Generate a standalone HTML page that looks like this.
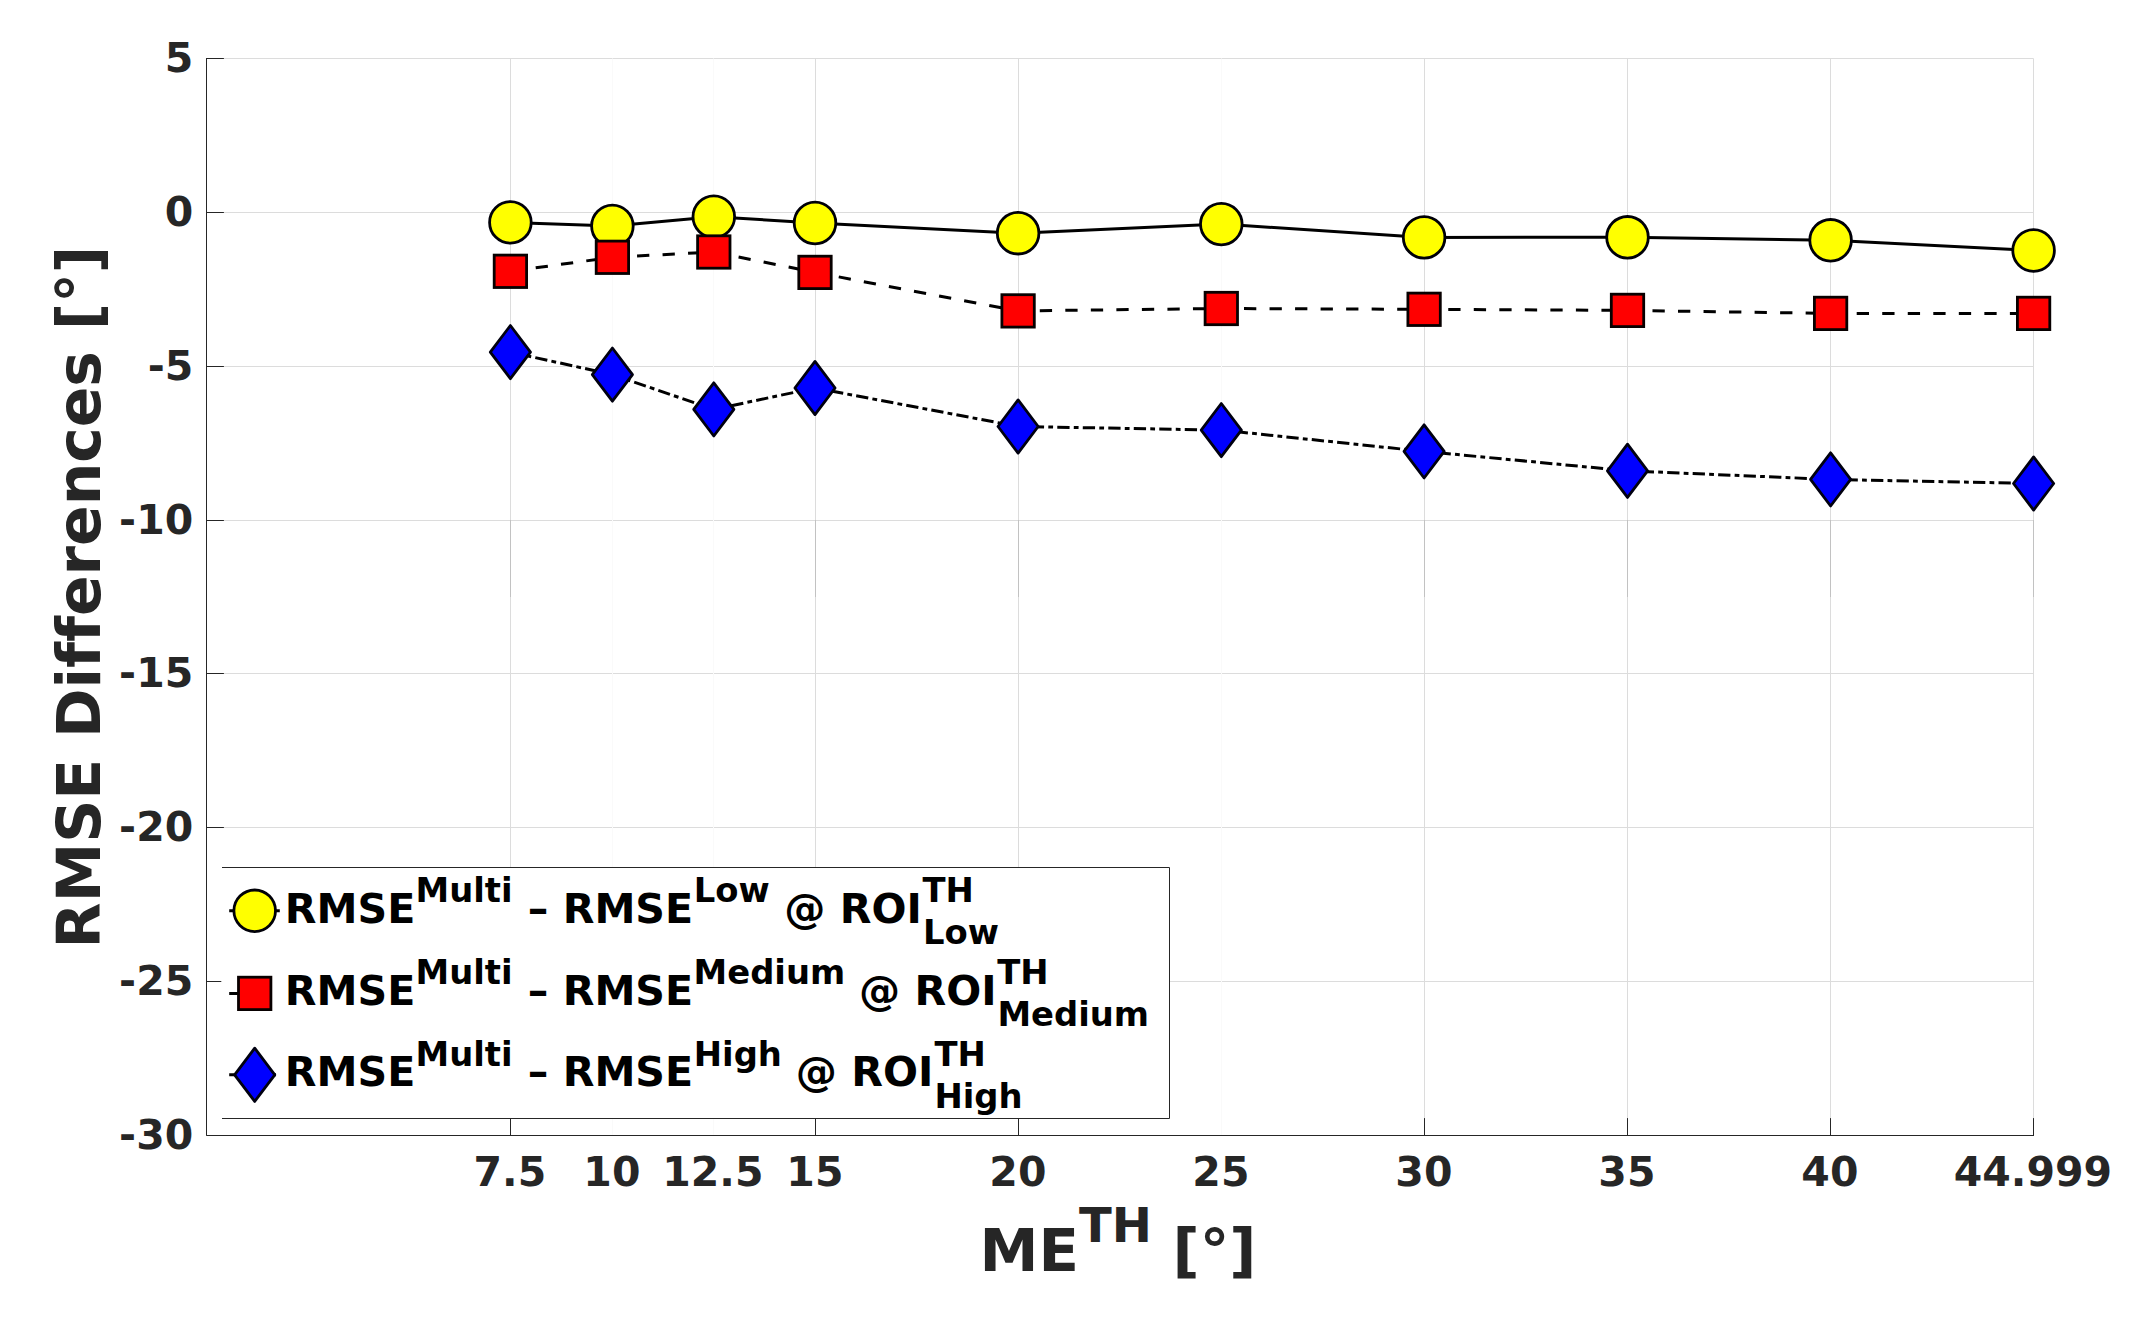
<!DOCTYPE html>
<html lang="en"><head><meta charset="utf-8"><title>RMSE Differences</title>
<style>html,body{margin:0;padding:0;background:#fff;}svg{display:block;}text{font-family:"DejaVu Sans", "Liberation Sans", sans-serif;font-weight:bold;font-variant-ligatures:none;}</style>
</head><body>
<svg width="2152" height="1318" viewBox="0 0 2152 1318">
<rect width="2152" height="1318" fill="#fff"/>
<g stroke="#dcdcdc" stroke-width="1" fill="none">
<line x1="206.5" y1="58.5" x2="2033.5" y2="58.5"/>
<line x1="206.5" y1="212.5" x2="2033.5" y2="212.5"/>
<line x1="206.5" y1="366.5" x2="2033.5" y2="366.5"/>
<line x1="206.5" y1="520.5" x2="2033.5" y2="520.5"/>
<line x1="206.5" y1="673.5" x2="2033.5" y2="673.5"/>
<line x1="206.5" y1="827.5" x2="2033.5" y2="827.5"/>
<line x1="206.5" y1="981.5" x2="2033.5" y2="981.5"/>
<line x1="510.5" y1="58.5" x2="510.5" y2="1135.5"/>
<line x1="815.5" y1="58.5" x2="815.5" y2="1135.5"/>
<line x1="1018.5" y1="58.5" x2="1018.5" y2="1135.5"/>
<line x1="1424.5" y1="58.5" x2="1424.5" y2="1135.5"/>
<line x1="1627.5" y1="58.5" x2="1627.5" y2="1135.5"/>
<line x1="1830.5" y1="58.5" x2="1830.5" y2="1135.5"/>
<line x1="2033.5" y1="58.5" x2="2033.5" y2="1135.5"/>
</g>
<g stroke="#fafafa" stroke-width="1" fill="none">
<line x1="612.5" y1="58.5" x2="612.5" y2="1135.5"/>
<line x1="713.5" y1="58.5" x2="713.5" y2="1135.5"/>
<line x1="1221.5" y1="58.5" x2="1221.5" y2="1135.5"/>
</g>
<g stroke="#c2c2c2" stroke-width="1" fill="none">
<line x1="510.5" y1="520" x2="510.5" y2="597"/>
<line x1="815.5" y1="520" x2="815.5" y2="597"/>
<line x1="1018.5" y1="520" x2="1018.5" y2="597"/>
<line x1="1424.5" y1="520" x2="1424.5" y2="597"/>
<line x1="1627.5" y1="520" x2="1627.5" y2="597"/>
<line x1="1830.5" y1="520" x2="1830.5" y2="597"/>
<line x1="2033.5" y1="520" x2="2033.5" y2="597"/>
</g>
<g stroke="#262626" stroke-width="1" fill="none">
<path d="M206.5 58.0 V1135.5 H2034.0"/>
<line x1="206.5" y1="58.5" x2="223.9" y2="58.5"/>
<line x1="206.5" y1="212.5" x2="223.9" y2="212.5"/>
<line x1="206.5" y1="366.5" x2="223.9" y2="366.5"/>
<line x1="206.5" y1="520.5" x2="223.9" y2="520.5"/>
<line x1="206.5" y1="673.5" x2="223.9" y2="673.5"/>
<line x1="206.5" y1="827.5" x2="223.9" y2="827.5"/>
<line x1="206.5" y1="981.5" x2="223.9" y2="981.5"/>
<line x1="206.5" y1="1135.5" x2="223.9" y2="1135.5"/>
<line x1="510.5" y1="1135.5" x2="510.5" y2="1118.1"/>
<line x1="815.5" y1="1135.5" x2="815.5" y2="1118.1"/>
<line x1="1018.5" y1="1135.5" x2="1018.5" y2="1118.1"/>
<line x1="1424.5" y1="1135.5" x2="1424.5" y2="1118.1"/>
<line x1="1627.5" y1="1135.5" x2="1627.5" y2="1118.1"/>
<line x1="1830.5" y1="1135.5" x2="1830.5" y2="1118.1"/>
<line x1="2033.5" y1="1135.5" x2="2033.5" y2="1118.1"/>
</g>
<g fill="#262626" font-size="41">
<text x="193.2" y="72.3" text-anchor="end">5</text>
<text x="193.2" y="226.3" text-anchor="end">0</text>
<text x="193.2" y="380.3" text-anchor="end">-5</text>
<text x="193.2" y="534.3" text-anchor="end">-10</text>
<text x="193.2" y="687.3" text-anchor="end">-15</text>
<text x="193.2" y="841.3" text-anchor="end">-20</text>
<text x="193.2" y="995.3" text-anchor="end">-25</text>
<text x="193.2" y="1149.3" text-anchor="end">-30</text>
<text x="509.9" y="1185.8" text-anchor="middle">7.5</text>
<text x="611.9" y="1185.8" text-anchor="middle">10</text>
<text x="712.9" y="1185.8" text-anchor="middle">12.5</text>
<text x="814.9" y="1185.8" text-anchor="middle">15</text>
<text x="1017.9" y="1185.8" text-anchor="middle">20</text>
<text x="1220.9" y="1185.8" text-anchor="middle">25</text>
<text x="1423.9" y="1185.8" text-anchor="middle">30</text>
<text x="1626.9" y="1185.8" text-anchor="middle">35</text>
<text x="1829.9" y="1185.8" text-anchor="middle">40</text>
<text x="2032.9" y="1185.8" text-anchor="middle">44.999</text>
</g>
<g fill="#262626">
<text x="979.5" y="1271" font-size="59.3">ME<tspan font-size="48" dy="-29.3">TH</tspan><tspan dy="29.3"> [°]</tspan></text>
<text transform="translate(100.1 948.4) rotate(-90)" font-size="59.8">RMSE Differences [°]</text>
</g>
<polyline points="510.4,222.4 612.4,225.9 713.8,216.7 815.0,223.0 1018.1,233.2 1221.3,224.1 1424.1,237.4 1627.5,237.3 1830.6,240.3 2033.6,250.5" fill="none" stroke="#000" stroke-width="3.0"/>
<circle cx="510.4" cy="222.4" r="20.8" fill="#ffff00" stroke="#000008" stroke-width="2.8"/>
<circle cx="612.4" cy="225.9" r="20.8" fill="#ffff00" stroke="#000008" stroke-width="2.8"/>
<circle cx="713.8" cy="216.7" r="20.8" fill="#ffff00" stroke="#000008" stroke-width="2.8"/>
<circle cx="815.0" cy="223.0" r="20.8" fill="#ffff00" stroke="#000008" stroke-width="2.8"/>
<circle cx="1018.1" cy="233.2" r="20.8" fill="#ffff00" stroke="#000008" stroke-width="2.8"/>
<circle cx="1221.3" cy="224.1" r="20.8" fill="#ffff00" stroke="#000008" stroke-width="2.8"/>
<circle cx="1424.1" cy="237.4" r="20.8" fill="#ffff00" stroke="#000008" stroke-width="2.8"/>
<circle cx="1627.5" cy="237.3" r="20.8" fill="#ffff00" stroke="#000008" stroke-width="2.8"/>
<circle cx="1830.6" cy="240.3" r="20.8" fill="#ffff00" stroke="#000008" stroke-width="2.8"/>
<circle cx="2033.6" cy="250.5" r="20.8" fill="#ffff00" stroke="#000008" stroke-width="2.8"/>
<polyline points="510.4,271.3 612.4,257.3 713.8,252.0 815.0,272.4 1018.1,310.9 1221.3,308.5 1424.1,309.3 1627.5,310.4 1830.6,313.4 2033.6,313.4" fill="none" stroke="#000" stroke-width="3.0" stroke-dasharray="12.3 13.23"/>
<rect x="494.2" y="255.1" width="32.4" height="32.4" fill="#ff0000" stroke="#080000" stroke-width="2.8"/>
<rect x="596.2" y="241.1" width="32.4" height="32.4" fill="#ff0000" stroke="#080000" stroke-width="2.8"/>
<rect x="697.6" y="235.8" width="32.4" height="32.4" fill="#ff0000" stroke="#080000" stroke-width="2.8"/>
<rect x="798.8" y="256.2" width="32.4" height="32.4" fill="#ff0000" stroke="#080000" stroke-width="2.8"/>
<rect x="1001.9" y="294.7" width="32.4" height="32.4" fill="#ff0000" stroke="#080000" stroke-width="2.8"/>
<rect x="1205.1" y="292.3" width="32.4" height="32.4" fill="#ff0000" stroke="#080000" stroke-width="2.8"/>
<rect x="1407.9" y="293.1" width="32.4" height="32.4" fill="#ff0000" stroke="#080000" stroke-width="2.8"/>
<rect x="1611.3" y="294.2" width="32.4" height="32.4" fill="#ff0000" stroke="#080000" stroke-width="2.8"/>
<rect x="1814.4" y="297.2" width="32.4" height="32.4" fill="#ff0000" stroke="#080000" stroke-width="2.8"/>
<rect x="2017.4" y="297.2" width="32.4" height="32.4" fill="#ff0000" stroke="#080000" stroke-width="2.8"/>
<polyline points="510.4,352.1 612.4,374.6 713.8,409.4 815.0,388.0 1018.1,426.5 1221.3,430.1 1424.1,451.4 1627.5,470.8 1830.6,479.4 2033.6,483.5" fill="none" stroke="#000" stroke-width="3.0" stroke-dasharray="12.3 4.2 4.8 4.2"/>
<path d="M510.4 325.5 L530.5 352.1 L510.4 378.7 L490.3 352.1 Z" fill="#0000ff" stroke="#000010" stroke-width="2.8" stroke-linejoin="round"/>
<path d="M612.4 348.0 L632.5 374.6 L612.4 401.2 L592.3 374.6 Z" fill="#0000ff" stroke="#000010" stroke-width="2.8" stroke-linejoin="round"/>
<path d="M713.8 382.8 L733.9 409.4 L713.8 436.0 L693.7 409.4 Z" fill="#0000ff" stroke="#000010" stroke-width="2.8" stroke-linejoin="round"/>
<path d="M815.0 361.4 L835.1 388.0 L815.0 414.6 L794.9 388.0 Z" fill="#0000ff" stroke="#000010" stroke-width="2.8" stroke-linejoin="round"/>
<path d="M1018.1 399.9 L1038.2 426.5 L1018.1 453.1 L998.0 426.5 Z" fill="#0000ff" stroke="#000010" stroke-width="2.8" stroke-linejoin="round"/>
<path d="M1221.3 403.5 L1241.4 430.1 L1221.3 456.7 L1201.2 430.1 Z" fill="#0000ff" stroke="#000010" stroke-width="2.8" stroke-linejoin="round"/>
<path d="M1424.1 424.8 L1444.2 451.4 L1424.1 478.0 L1404.0 451.4 Z" fill="#0000ff" stroke="#000010" stroke-width="2.8" stroke-linejoin="round"/>
<path d="M1627.5 444.2 L1647.6 470.8 L1627.5 497.4 L1607.4 470.8 Z" fill="#0000ff" stroke="#000010" stroke-width="2.8" stroke-linejoin="round"/>
<path d="M1830.6 452.8 L1850.7 479.4 L1830.6 506.0 L1810.5 479.4 Z" fill="#0000ff" stroke="#000010" stroke-width="2.8" stroke-linejoin="round"/>
<path d="M2033.6 456.9 L2053.7 483.5 L2033.6 510.1 L2013.5 483.5 Z" fill="#0000ff" stroke="#000010" stroke-width="2.8" stroke-linejoin="round"/>
<rect x="221.3" y="867.5" width="948.2" height="251.0" fill="#fff"/>
<path d="M222.0 867.5 H1169.5 V1118.5 H222.0" fill="none" stroke="#262626" stroke-width="1"/>
<line x1="229.2" y1="910.8" x2="279.8" y2="910.8" stroke="#000" stroke-width="3.0"/>
<circle cx="254.7" cy="910.8" r="20.8" fill="#ffff00" stroke="#000008" stroke-width="2.8"/>
<text y="922.7" font-size="41.2" fill="#000"><tspan x="284.8">RMSE</tspan><tspan x="415.6" font-size="33.8" dy="-20.5">Multi</tspan><tspan x="513.4" dy="20.5"> – RMSE</tspan><tspan x="693.8" font-size="33.8" dy="-20.5">Low</tspan><tspan x="769.8" dy="20.5"> @ ROI</tspan><tspan x="922.4" font-size="33.8" dy="-20.5">TH</tspan><tspan x="923.0" font-size="33.8" dy="41.9">Low</tspan></text>
<line x1="229.2" y1="993.4" x2="279.8" y2="993.4" stroke="#000" stroke-width="3.0" stroke-dasharray="12.3 13.23"/>
<rect x="238.5" y="977.2" width="32.4" height="32.4" fill="#ff0000" stroke="#080000" stroke-width="2.8"/>
<text y="1004.8" font-size="41.2" fill="#000"><tspan x="284.8">RMSE</tspan><tspan x="415.6" font-size="33.8" dy="-20.5">Multi</tspan><tspan x="513.4" dy="20.5"> – RMSE</tspan><tspan x="693.6" font-size="33.8" dy="-20.5">Medium</tspan><tspan x="844.6" dy="20.5"> @ ROI</tspan><tspan x="997.3" font-size="33.8" dy="-20.5">TH</tspan><tspan x="997.4" font-size="33.8" dy="41.9">Medium</tspan></text>
<line x1="229.2" y1="1074.8" x2="279.8" y2="1074.8" stroke="#000" stroke-width="3.0" stroke-dasharray="12.3 4.2 4.8 4.2"/>
<path d="M254.7 1048.2 L274.8 1074.8 L254.7 1101.4 L234.6 1074.8 Z" fill="#0000ff" stroke="#000010" stroke-width="2.8" stroke-linejoin="round"/>
<text y="1086.2" font-size="41.2" fill="#000"><tspan x="284.8">RMSE</tspan><tspan x="415.6" font-size="33.8" dy="-20.5">Multi</tspan><tspan x="513.4" dy="20.5"> – RMSE</tspan><tspan x="693.8" font-size="33.8" dy="-20.5">High</tspan><tspan x="781.3" dy="20.5"> @ ROI</tspan><tspan x="934.5" font-size="33.8" dy="-20.5">TH</tspan><tspan x="934.4" font-size="33.8" dy="41.9">High</tspan></text>
</svg></body></html>
